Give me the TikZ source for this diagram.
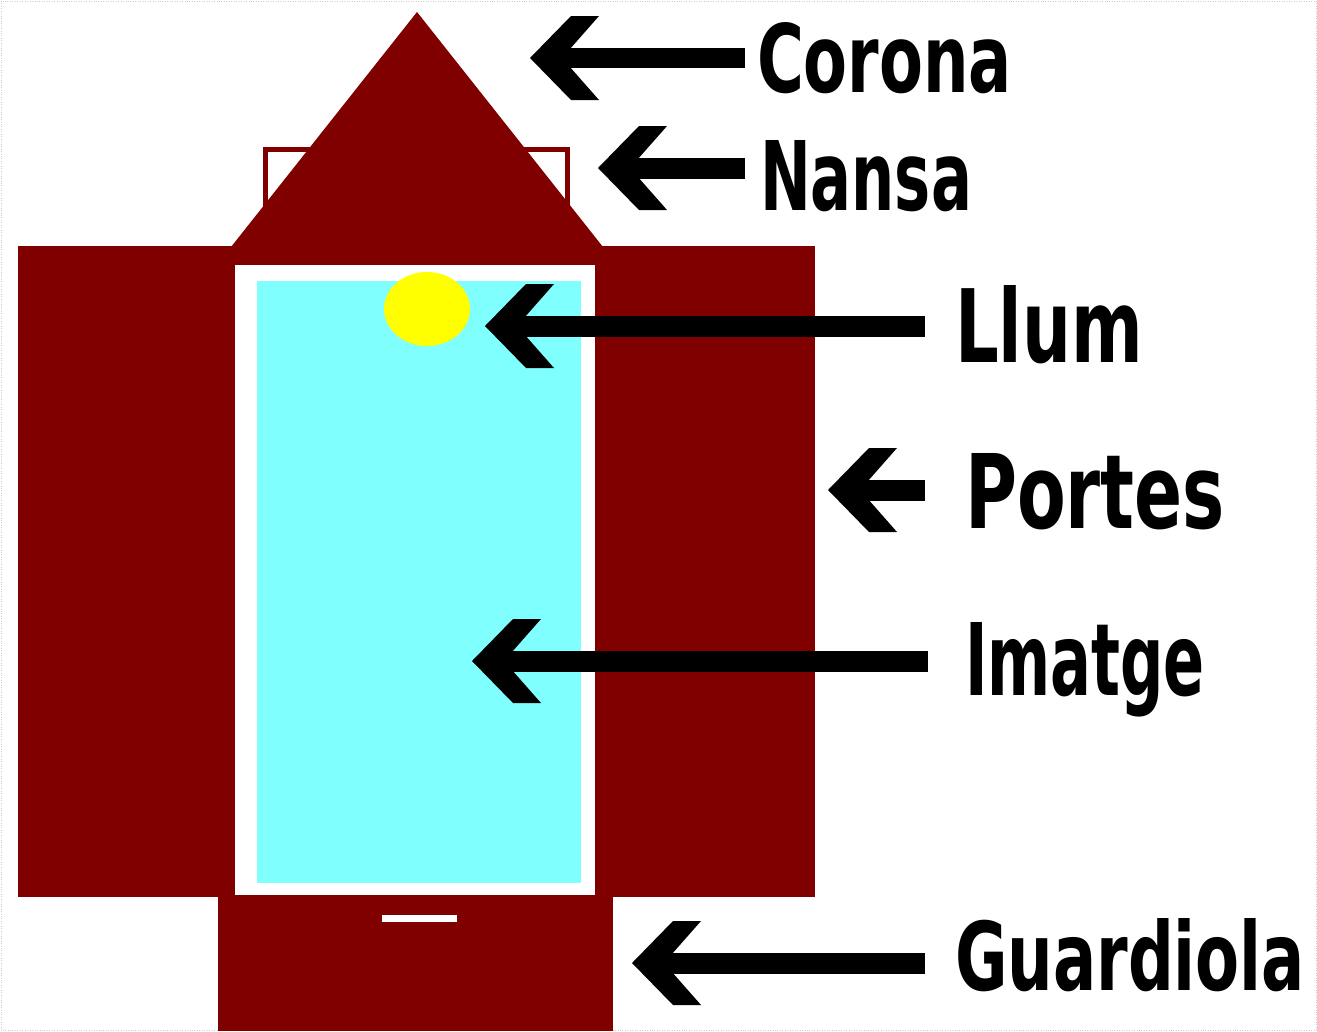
\documentclass[tikz,border=0pt]{standalone}
\usepackage{fontspec}
\usepackage{graphicx}
\newfontfamily\labfont{DejaVu Sans}
\definecolor{wood}{RGB}{128,0,0}
\definecolor{glass}{RGB}{128,255,255}
\definecolor{lamp}{RGB}{255,255,0}
\tikzset{
  woodfill/.style={fill=wood, draw=none},
  lab/.style={inner sep=0pt, outer sep=0pt, anchor=base west},
}
\newcommand{\labtxt}[3]{\resizebox{#1}{#2}{\labfont\bfseries #3}}
% chevron + shaft: #1 tip coordinate, #2 end coordinate (same height)
\newcommand{\bigarrow}[2]{%
  \fill[black] ([xshift=0.6cm,yshift=0.21cm]#1) rectangle ([yshift=-0.21cm]#2);
  \begin{scope}[shift={(#1)}]
    \fill[black] (0,0) -- (41,-42) -- (69,-42) -- (32,0) -- (69,42) -- (41,42) -- cycle;
  \end{scope}}
\begin{document}
\begin{tikzpicture}[x=0.02cm,y=-0.02cm]
\useasboundingbox (0,0) rectangle (1317,1031);
\fill[white] (0,0) rectangle (1317,1031);
\draw[gray!40, densely dotted] (1,1) rectangle (1316,1030);

% nansa (outlined box behind the roof)
\draw[wood, line width=0.1cm, fill=white] (265,149) rectangle (567,246);
% doors and body
\fill[woodfill] (18,246) rectangle (815,897);
% roof / corona
\fill[woodfill] (231,247) -- (417,12) -- (603,247) -- cycle;
% guardiola
\fill[woodfill] (218,895) rectangle (613,1031);
\fill[white] (382,915) rectangle (457,922);
% image frame
\fill[white] (235,265) rectangle (595,895);
\fill[glass] (257,281) rectangle (581,883);
% light
\fill[lamp] (427,309) ellipse [x radius=43, y radius=37];

% arrow tips
\coordinate (corona) at (530,58);
\coordinate (nansa) at (598,168);
\coordinate (llum) at (485,326);
\coordinate (portes) at (828,490);
\coordinate (imatge) at (472,661);
\coordinate (guardiola) at (632,963);

% labels
\node[lab] (tCorona) at (757,92) {\labtxt{255\dimexpr 0.02cm\relax}{70\dimexpr 0.02cm\relax}{Corona}};
\node[lab] (tNansa) at (760,210) {\labtxt{212\dimexpr 0.02cm\relax}{70\dimexpr 0.02cm\relax}{Nansa}};
\node[lab] (tLlum) at (955,362) {\labtxt{188\dimexpr 0.02cm\relax}{77\dimexpr 0.02cm\relax}{Llum}};
\node[lab] (tPortes) at (965,528) {\labtxt{260\dimexpr 0.02cm\relax}{75\dimexpr 0.02cm\relax}{Portes}};
\node[lab] (tImatge) at (965,695) {\labtxt{240\dimexpr 0.02cm\relax}{73\dimexpr 0.02cm\relax}{Imatge}};
\node[lab] (tGuardiola) at (955,990) {\labtxt{350\dimexpr 0.02cm\relax}{72\dimexpr 0.02cm\relax}{Guardiola}};

% arrow ends
\coordinate (eCorona) at (745,58);
\coordinate (eNansa) at (745,168);
\coordinate (eLlum) at (925,326);
\coordinate (ePortes) at (925,490);
\coordinate (eImatge) at (928,661);
\coordinate (eGuardiola) at (925,963);

\bigarrow{corona}{eCorona}
\bigarrow{nansa}{eNansa}
\bigarrow{llum}{eLlum}
\bigarrow{portes}{ePortes}
\bigarrow{imatge}{eImatge}
\bigarrow{guardiola}{eGuardiola}
\end{tikzpicture}
\end{document}
